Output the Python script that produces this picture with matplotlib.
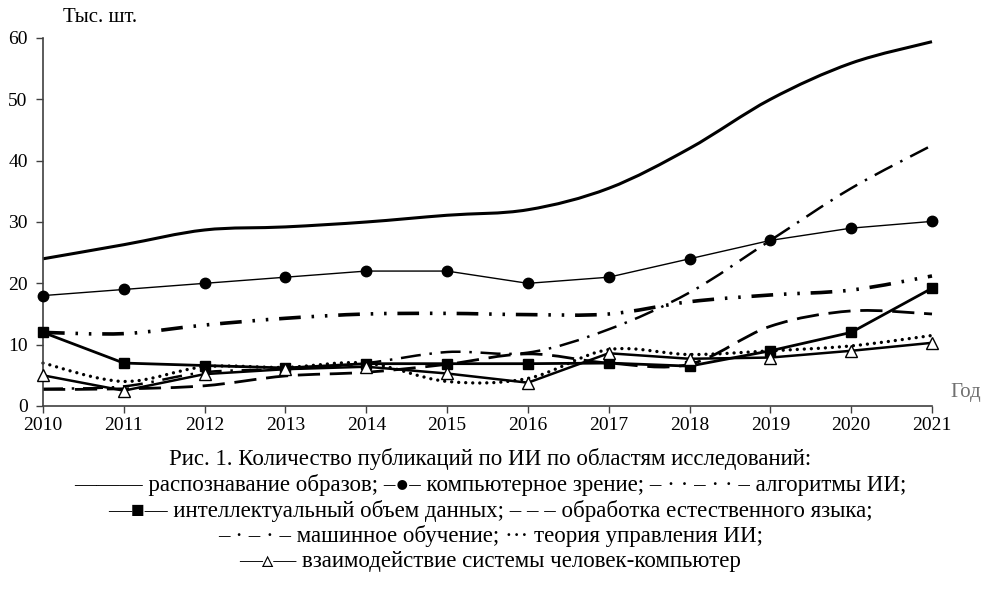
import matplotlib
matplotlib.use("Agg")
import matplotlib.pyplot as plt
from matplotlib.path import Path
from matplotlib.patches import PathPatch

plt.rcParams['font.family'] = ['Liberation Serif', 'DejaVu Serif']

years = [2010, 2011, 2012, 2013, 2014, 2015, 2016, 2017, 2018, 2019, 2020, 2021]
pattern_recognition = [24, 26.3, 28.7, 29.2, 30.0, 31.1, 32.0, 35.5, 42.0, 50.0, 55.9, 59.4]
computer_vision = [18, 19, 20, 21, 22, 22, 20, 21, 24, 27, 29, 30.1]
ai_algorithms = [12, 11.8, 13.2, 14.3, 15.0, 15.1, 14.9, 15.0, 17.0, 18.1, 18.9, 21.2]
big_data = [12, 7.0, 6.6, 6.2, 6.9, 6.9, 6.9, 7.0, 6.5, 9.0, 12.0, 19.2]
nlp = [2.7, 2.8, 3.3, 4.9, 5.5, 6.8, 8.5, 7.0, 6.8, 13.0, 15.5, 15.0]
machine_learning = [2.8, 3.2, 5.5, 6.0, 7.0, 8.8, 8.7, 12.5, 18.5, 27.0, 35.5, 42.5]
control_theory = [7.0, 4.0, 6.4, 6.3, 7.0, 4.0, 4.5, 9.2, 8.4, 9.0, 9.8, 11.5]
hci = [5.0, 2.5, 5.2, 6.0, 6.4, 5.3, 3.8, 8.6, 7.7, 7.9, 9.0, 10.3]

yticks = [0, 10, 20, 30, 40, 50, 60]
y_label = "Тыс. шт."
x_label = "Год"
caption = [
    "Рис. 1. Количество публикаций по ИИ по областям исследований:",
    "——— распознавание образов; –●– компьютерное зрение; – · · – · · – алгоритмы ИИ;",
    "—■— интеллектуальный объем данных; – – – обработка естественного языка;",
    "– · – · – машинное обучение; ··· теория управления ИИ;",
    "—▵— взаимодействие системы человек-компьютер",
]


def smooth_path(x, y):
    n = len(x)
    verts = [(x[0], y[0])]
    codes = [Path.MOVETO]
    for i in range(n - 1):
        p0 = i - 1 if i > 0 else i
        p3 = i + 2 if i + 2 < n else i + 1
        c1 = (x[i] + (x[i + 1] - x[p0]) / 6.0, y[i] + (y[i + 1] - y[p0]) / 6.0)
        c2 = (x[i + 1] - (x[p3] - x[i]) / 6.0, y[i + 1] - (y[p3] - y[i]) / 6.0)
        verts += [c1, c2, (x[i + 1], y[i + 1])]
        codes += [Path.CURVE4] * 3
    return Path(verts, codes)


fig = plt.figure(figsize=(9.81, 6.09), dpi=100)
ax = fig.add_axes([43 / 981, 1 - 406 / 609, (932 - 43) / 981, (406 - 38) / 609])

def add_smooth(y, lw, ls, cap='butt'):
    patch = PathPatch(smooth_path(years, y), fill=False, edgecolor='black',
                      lw=lw, linestyle=ls, capstyle=cap, clip_on=False)
    ax.add_patch(patch)

add_smooth(pattern_recognition, 2.2, '-')
add_smooth(ai_algorithms, 2.6, (0, (6, 3, 0.7, 3, 0.7, 3)))
add_smooth(nlp, 2.0, (0, (8, 3.5)))
add_smooth(machine_learning, 1.8, (0, (8, 3.5, 1, 3.5)))
add_smooth(control_theory, 2.4, (0, (0.01, 2.1)), cap='round')

ax.plot(years, big_data, color='black', lw=2.0, marker='s', ms=7,
        markerfacecolor='black', clip_on=False, zorder=3)
ax.plot(years, computer_vision, color='black', lw=1.0, marker='o', ms=7.5,
        markerfacecolor='black', clip_on=False, zorder=3)
ax.plot(years, hci, color='black', lw=1.8, marker='^', ms=8,
        markerfacecolor='white', markeredgecolor='black', markeredgewidth=1.0,
        clip_on=False, zorder=4)

ax.set_xlim(2010, 2021)
ax.set_ylim(0, 60)
ax.set_xticks(years)
ax.set_yticks(yticks)
ax.tick_params(axis='both', direction='out', length=5, width=1, color='#404040',
               labelsize=14)
ax.tick_params(axis='y', pad=6)
ax.tick_params(axis='x', pad=3)
for s in ['top', 'right']:
    ax.spines[s].set_visible(False)
for s in ['left', 'bottom']:
    ax.spines[s].set_color('#404040')
    ax.spines[s].set_linewidth(1.2)

fig.text(100 / 981, 1 - 18 / 609, y_label, ha='center', va='center', fontsize=15)
fig.text(950 / 981, 1 - 392 / 609, x_label, ha='left', va='center', fontsize=15,
         color='#707070')

line_y = [459, 485, 511, 536, 561]
for txt, yy in zip(caption, line_y):
    fig.text(0.5, 1 - yy / 609, txt, ha='center', va='center', fontsize=16.5)

fig.savefig("out.png", dpi=100)
